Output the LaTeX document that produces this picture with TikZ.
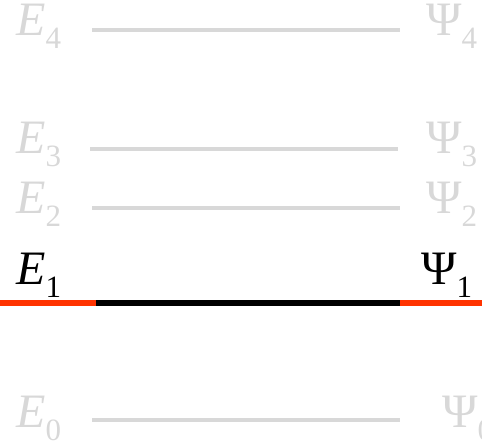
\documentclass[tikz,border=0pt]{standalone}
\usepackage{fontspec}
\setmainfont{Liberation Serif}
\usepackage{tikz}
\usetikzlibrary{positioning}
\usepackage{xcolor}
\definecolor{lgray}{RGB}{216,216,216}
\definecolor{lred}{RGB}{255,51,0}
\tikzset{lvl/.style={anchor=base west,inner sep=0pt,font=\fontsize{48}{48}\selectfont,text=#1},
  faint/.style={draw=lgray,line width=4.5pt},
  bound/.style={draw=#1,line width=6pt}}
\newcommand{\lvlabel}[2]{#1\raisebox{-13pt}{\fontsize{31}{31}\selectfont #2}}

\begin{document}
\begin{tikzpicture}[x=1pt,y=-1pt]
    \useasboundingbox (0,0) rectangle (482,445);
    % energies
    \node[lvl=lgray] (e4) at (16,35) {\lvlabel{\textit{E}}{4}};
    \node[lvl=lgray] (e3) at (16,153) {\lvlabel{\textit{E}}{3}};
    \node[lvl=lgray] (e2) at (16,213) {\lvlabel{\textit{E}}{2}};
    \node[lvl=black] (e1) at (16,284) {\lvlabel{\textit{E}}{1}};
    \node[lvl=lgray] (e0) at (16,427) {\lvlabel{\textit{E}}{0}};
    % states
    \node[lvl=lgray] (s4) at (426,35) {\lvlabel{Ψ}{4}};
    \node[lvl=lgray] (s3) at (426,153) {\lvlabel{Ψ}{3}};
    \node[lvl=lgray] (s2) at (426,213) {\lvlabel{Ψ}{2}};
    \node[lvl=black] (s1) at (421,284) {\lvlabel{Ψ}{1}};
    \node[lvl=lgray] (s0) at (442,427) {\lvlabel{Ψ}{0}};
    % levels
    \coordinate (a4) at (92,30);  \coordinate (b4) at (400,30);
    \coordinate (a3) at (90,149); \coordinate (b3) at (398,149);
    \coordinate (a2) at (92,208); \coordinate (b2) at (400,208);
    \coordinate (a0) at (92,420); \coordinate (b0) at (400,420);
    \coordinate (w0) at (0,302.5); \coordinate (a1) at (96,302.5);
    \coordinate (b1) at (400,302.5); \coordinate (w1) at (482,302.5);
    \draw[faint] (a4)--(b4);
    \draw[faint] (a3)--(b3);
    \draw[faint] (a2)--(b2);
    \draw[faint] (a0)--(b0);
    \draw[bound=lred] (w0)--(a1);
    \draw[bound=black] (a1)--(b1);
    \draw[bound=lred] (b1)--(w1);
  \end{tikzpicture}
\end{document}
